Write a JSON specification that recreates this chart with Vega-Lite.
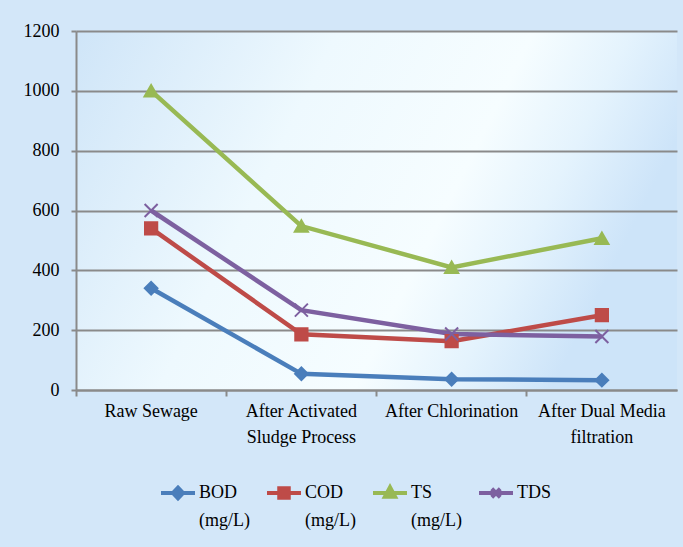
{
  "$schema": "https://vega.github.io/schema/vega-lite/v6.json",
  "width": 601,
  "height": 359,
  "autosize": {"type": "none"},
  "padding": {"left": 76, "top": 31, "right": 6, "bottom": 157},
  "background": "#d3e7f9",
  "config": {
    "view": {
      "stroke": null,
      "fill": {"gradient": "linear", "x1": 0, "y1": 0, "x2": 1, "y2": 0.3,
        "stops": [
          {"offset": 0, "color": "#cfe5f8"},
          {"offset": 0.4, "color": "#eef9fe"},
          {"offset": 0.7, "color": "#f6fdff"},
          {"offset": 0.85, "color": "#e4f3fd"},
          {"offset": 1, "color": "#cde4f9"}
        ]}
    },
    "font": "Liberation Serif, Times New Roman, serif",
    "axis": {"labelFont": "Liberation Serif, Times New Roman, serif", "labelFontSize": 18, "labelColor": "#000000", "domainColor": "#8a8a8a", "domainWidth": 2, "tickColor": "#8a8a8a", "tickWidth": 2, "title": null},
    "legend": {"labelFont": "Liberation Serif, Times New Roman, serif", "labelFontSize": 18, "labelColor": "#000000"}
  },
  "data": {
    "values": [
      {"stage": "Raw Sewage", "series": "BOD", "value": 340},
      {"stage": "After Activated Sludge Process", "series": "BOD", "value": 54},
      {"stage": "After Chlorination", "series": "BOD", "value": 36},
      {"stage": "After Dual Media filtration", "series": "BOD", "value": 33},
      {"stage": "Raw Sewage", "series": "COD", "value": 540},
      {"stage": "After Activated Sludge Process", "series": "COD", "value": 186},
      {"stage": "After Chlorination", "series": "COD", "value": 163},
      {"stage": "After Dual Media filtration", "series": "COD", "value": 250},
      {"stage": "Raw Sewage", "series": "TS", "value": 1000},
      {"stage": "After Activated Sludge Process", "series": "TS", "value": 548},
      {"stage": "After Chlorination", "series": "TS", "value": 410},
      {"stage": "After Dual Media filtration", "series": "TS", "value": 507},
      {"stage": "Raw Sewage", "series": "TDS", "value": 600},
      {"stage": "After Activated Sludge Process", "series": "TDS", "value": 267},
      {"stage": "After Chlorination", "series": "TDS", "value": 187},
      {"stage": "After Dual Media filtration", "series": "TDS", "value": 179}
    ]
  },
  "encoding": {
    "x": {
      "field": "stage", "type": "nominal", "sort": null, "bandPosition": 0.5,
      "scale": {"type": "band", "paddingInner": 0, "paddingOuter": 0},
      "axis": {
        "bandPosition": 0, "grid": false, "tickSize": 6, "labelPadding": 6, "labelAngle": 0,
        "labelLineHeight": 26, "labelBaseline": "top",
        "labelExpr": "datum.label == 'After Activated Sludge Process' ? ['After Activated', 'Sludge Process'] : datum.label == 'After Dual Media filtration' ? ['After Dual Media', 'filtration'] : datum.label"
      }
    },
    "y": {
      "field": "value", "type": "quantitative",
      "scale": {"domain": [0, 1200], "nice": false},
      "axis": {"values": [0, 200, 400, 600, 800, 1000, 1200], "format": "d", "grid": true, "gridColor": "#8a8a8a", "gridWidth": 2, "tickSize": 5, "labelPadding": 12}
    },
    "color": {
      "field": "series", "type": "nominal",
      "scale": {"domain": ["BOD", "COD", "TS", "TDS"], "range": ["#4a7ebb", "#be4b48", "#98b954", "#7d60a0"]},
      "legend": {
        "title": null, "orient": "none", "legendX": 83, "legendY": 443,
        "direction": "horizontal", "columns": 4, "columnPadding": 9, "labelOffset": 2,
        "symbolSize": 1156, "padding": 0,
        "labelExpr": "datum.label == 'TDS' ? ['TDS', ' '] : [datum.label, '(mg/L)']",
        "encode": {
          "symbols": {"update": {
            "shape": {"signal": "datum.value == 'BOD' ? 'M-1,0H1M0,-0.32L0.3,0L0,0.32L-0.3,0Z' : datum.value == 'COD' ? 'M-1,0H1M-0.28,-0.28H0.28V0.28H-0.28Z' : datum.value == 'TS' ? 'M-1,0H1M0,-0.34L0.3,0.22H-0.3Z' : 'M-1,0H1M-0.25,-0.25L0.25,0.25M0.25,-0.25L-0.25,0.25'"},
            "fill": {"signal": "datum.value == 'TDS' ? 'transparent' : scale('color', datum.value)"},
            "stroke": {"signal": "scale('color', datum.value)"},
            "strokeWidth": {"value": 4},
            "size": {"value": 1156}
          }},
          "labels": {"update": {"lineHeight": {"value": 28}}}
        }
      }
    }
  },
  "layer": [
    {"mark": {"type": "line", "strokeWidth": 4.5}},
    {
      "transform": [{"filter": "datum.series == 'BOD'"}],
      "mark": {"type": "point", "filled": true, "shape": "diamond", "strokeWidth": 2, "size": 160, "opacity": 1, "stroke": "#4a7ebb"}
    },
    {
      "transform": [{"filter": "datum.series == 'COD'"}],
      "mark": {"type": "point", "filled": true, "shape": "square", "strokeWidth": 2, "size": 150, "opacity": 1, "stroke": "#be4b48"}
    },
    {
      "transform": [{"filter": "datum.series == 'TS'"}],
      "mark": {"type": "point", "filled": true, "shape": "triangle-up", "strokeWidth": 2, "size": 175, "opacity": 1, "stroke": "#98b954"}
    },
    {
      "transform": [{"filter": "datum.series == 'TDS'"}],
      "mark": {"type": "point", "filled": false, "shape": "M-1,-1L1,1M1,-1L-1,1", "strokeWidth": 2, "size": 170, "opacity": 1}
    }
  ]
}
